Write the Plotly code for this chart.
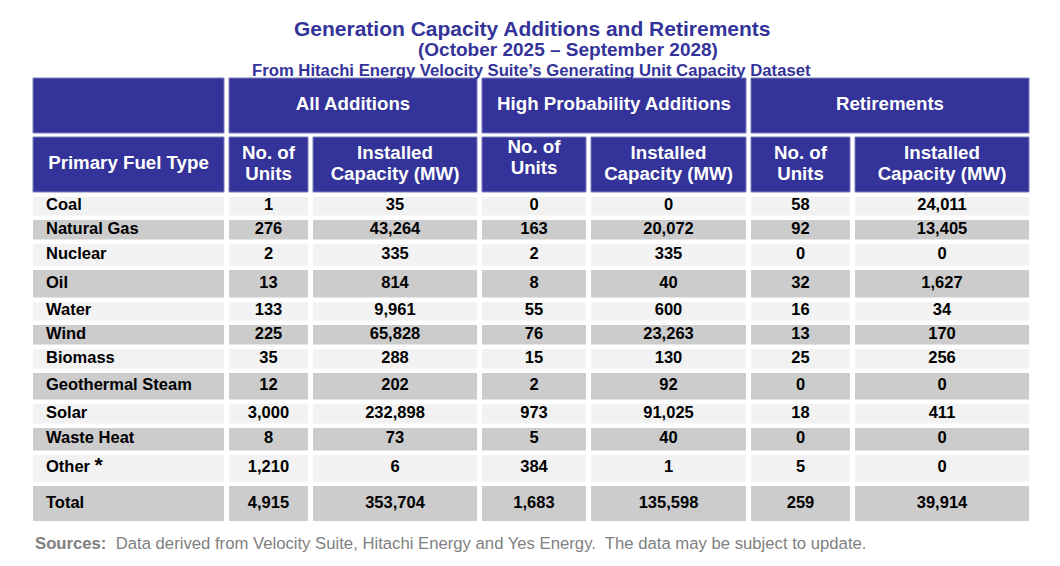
import plotly.graph_objects as go

# ---------------- data ----------------
fuel_types = ["Coal", "Natural Gas", "Nuclear", "Oil", "Water", "Wind", "Biomass",
              "Geothermal Steam", "Solar", "Waste Heat", "Other", "Total"]
all_units = [1, 276, 2, 13, 133, 225, 35, 12, 3000, 8, 1210, 4915]
all_mw = [35, 43264, 335, 814, 9961, 65828, 288, 202, 232898, 73, 6, 353704]
hp_units = [0, 163, 2, 8, 55, 76, 15, 2, 973, 5, 384, 1683]
hp_mw = [0, 20072, 335, 40, 600, 23263, 130, 92, 91025, 40, 1, 135598]
ret_units = [58, 92, 0, 32, 16, 13, 25, 0, 18, 0, 5, 259]
ret_mw = [24011, 13405, 0, 1627, 34, 170, 256, 0, 411, 0, 0, 39914]
footnote_marks = {"Other": "*"}

group_headers = ["", "All Additions", "High Probability Additions", "Retirements"]
group_span = [1, 2, 2, 2]
sub_headers = [["Primary Fuel Type"], ["No. of", "Units"], ["Installed", "Capacity (MW)"],
               ["No. of", "Units"], ["Installed", "Capacity (MW)"],
               ["No. of", "Units"], ["Installed", "Capacity (MW)"]]

title_lines = ["Generation Capacity Additions and Retirements",
               "(October 2025 \u2013 September 2028)",
               "From Hitachi Energy Velocity Suite\u2019s Generating Unit Capacity Dataset"]
source_label = "Sources:"
source_text = "Data derived from Velocity Suite, Hitachi Energy and Yes Energy.\u00a0 The data may be subject to update."

# ---------------- layout / style ----------------
W, H = 1060, 566
FONT = "Liberation Sans, Arial, sans-serif"
NAVY = "#333399"
HEAD_EDGE = "#7d7dbf"
LIGHT = "#f2f2f2"
DARK = "#cccccc"

table_left = 33
col_widths = [191, 79, 164, 104, 155, 99, 174]
col_gap = 5
group_top, head_h, head_gap = 78, 55, 4
body_gap = 4.5
row_heights = [18.5, 19.5, 21.5, 27.5, 18.5, 19.5, 19.5, 26.5, 19.5, 22.5, 26.5, 35]
first_col_pad = 13
header_dy = [0, 0, 0, -6, 0, 0, 0]
header_line_pitch = 21
HEAD_SIZE = 18.7
BODY_SIZE = 16.5

# column geometry
col_left = []
x = table_left
for w in col_widths:
    col_left.append(x)
    x += w + col_gap
col_center = [l + w / 2 for l, w in zip(col_left, col_widths)]

# group geometry
grp_left, grp_width = [], []
i = 0
for s in group_span:
    l = col_left[i]
    r = col_left[i + s - 1] + col_widths[i + s - 1]
    grp_left.append(l)
    grp_width.append(r - l)
    i += s
grp_center = [l + w / 2 for l, w in zip(grp_left, grp_width)]

group_mid = group_top + head_h / 2
sub_top = group_top + head_h + head_gap
sub_mid = sub_top + head_h / 2

row_mid = []
y = sub_top + head_h + body_gap + 0.5
for h in row_heights:
    row_mid.append(y + h / 2)
    y += h + body_gap
row_colors = [LIGHT if k % 2 == 0 else DARK for k in range(len(fuel_types))]

fig = go.Figure()

# header cells
fig.add_trace(go.Bar(orientation="h", y=[group_mid] * len(group_headers), x=grp_width,
                     base=grp_left, width=[head_h] * len(group_headers),
                     marker=dict(color=NAVY, line=dict(color=HEAD_EDGE, width=1)),
                     hoverinfo="skip"))
fig.add_trace(go.Bar(orientation="h", y=[sub_mid] * len(sub_headers), x=col_widths,
                     base=col_left, width=[head_h] * len(sub_headers),
                     marker=dict(color=NAVY, line=dict(color=HEAD_EDGE, width=1)),
                     hoverinfo="skip"))

# body cells
for j in range(len(col_widths)):
    fig.add_trace(go.Bar(orientation="h", y=row_mid, x=[col_widths[j]] * len(row_mid),
                         base=[col_left[j]] * len(row_mid), width=row_heights,
                         marker=dict(color=row_colors, line=dict(width=0)),
                         hoverinfo="skip"))

# header text
gx = [c for c, t in zip(grp_center, group_headers) if t]
gt = [t for t in group_headers if t]
fig.add_trace(go.Scatter(x=gx, y=[group_mid] * len(gt), mode="text",
                         text=gt, textposition="middle center",
                         textfont=dict(family=FONT, size=HEAD_SIZE, color="white", weight="bold"),
                         hoverinfo="skip"))
hx, hy, ht = [], [], []
for j, lines in enumerate(sub_headers):
    n = len(lines)
    for k, line in enumerate(lines):
        hx.append(col_center[j])
        hy.append(sub_mid + header_dy[j] + (k - (n - 1) / 2) * header_line_pitch)
        ht.append(line)
fig.add_trace(go.Scatter(x=hx, y=hy, mode="text", text=ht, textposition="middle center",
                         textfont=dict(family=FONT, size=HEAD_SIZE, color="white", weight="bold"),
                         hoverinfo="skip"))

# body text
labels = [f + (" <span style='font-size:21px'>" + footnote_marks[f] + "</span>"
               if f in footnote_marks else "")
          for f in fuel_types]
fig.add_trace(go.Scatter(x=[col_left[0] + first_col_pad] * len(labels), y=row_mid,
                         mode="text", text=labels, textposition="middle right",
                         textfont=dict(family=FONT, size=BODY_SIZE, color="black", weight="bold"),
                         hoverinfo="skip"))
for j, series in enumerate([all_units, all_mw, hp_units, hp_mw, ret_units, ret_mw], start=1):
    fig.add_trace(go.Scatter(x=[col_center[j]] * len(series), y=row_mid, mode="text",
                             text=[f"{v:,}" for v in series], textposition="middle center",
                             textfont=dict(family=FONT, size=BODY_SIZE, color="black", weight="bold"),
                             hoverinfo="skip"))

# titles
title_pos = [(532, 28, 21), (568, 49, 19), (531, 70, 16.7)]
for txt, (tx, ty, ts) in zip(title_lines, title_pos):
    fig.add_annotation(x=tx, y=ty, xref="x", yref="y", text=txt, showarrow=False,
                       xanchor="center", yanchor="middle",
                       font=dict(family=FONT, size=ts, color=NAVY, weight="bold"))

fig.add_annotation(x=table_left, y=543, xref="x", yref="y",
                   text="<b>" + source_label + "</b>\u00a0 " + source_text,
                   showarrow=False, xanchor="left", yanchor="middle",
                   font=dict(family=FONT, size=16.7, color="#808080"))

fig.update_layout(width=W, height=H, margin=dict(l=0, r=0, t=0, b=0),
                  barmode="overlay", showlegend=False, hovermode=False,
                  paper_bgcolor="white", plot_bgcolor="white",
                  xaxis=dict(range=[0, W], visible=False, fixedrange=True),
                  yaxis=dict(range=[H, 0], visible=False, fixedrange=True))

fig.write_html("out.html", config={"displayModeBar": False},
               post_script="document.body.style.margin='0px';")
